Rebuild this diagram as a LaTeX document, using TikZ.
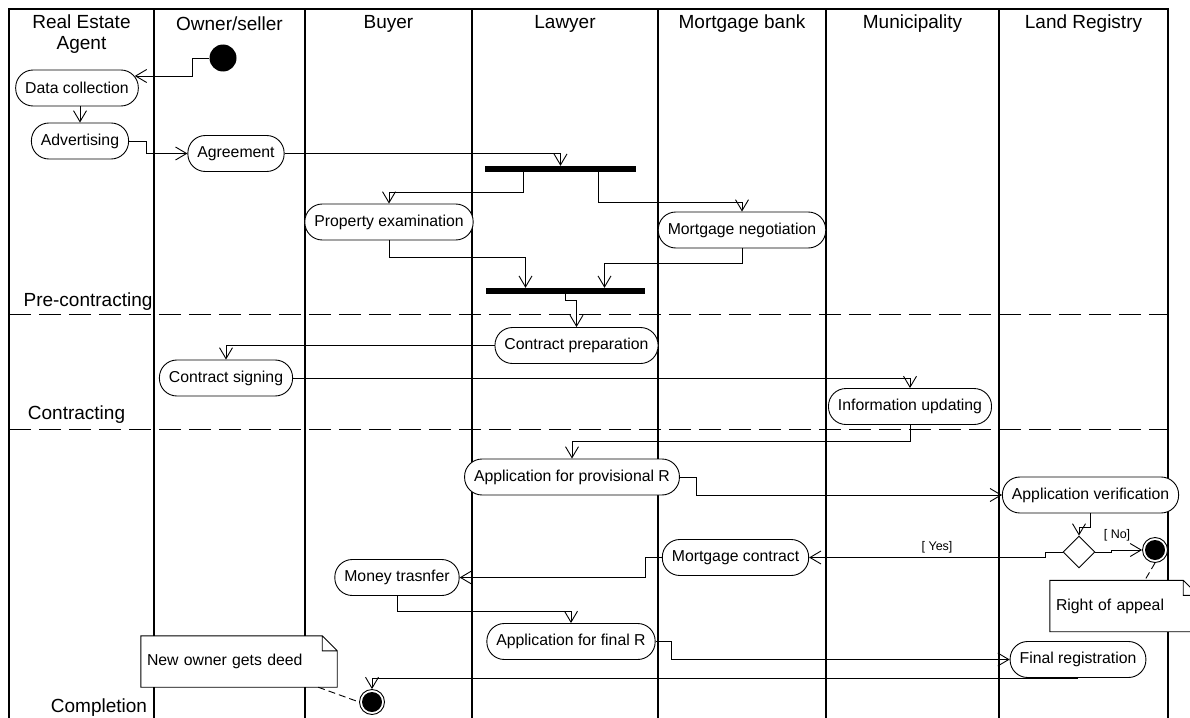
\documentclass[tikz,border=0pt]{standalone}
\usepackage{fontspec}
\setmainfont{Liberation Sans}
\usetikzlibrary{arrows.meta,shapes.geometric}

\begin{document}
\begin{tikzpicture}[x=1pt, y=-1pt, >={Straight Barb[length=11pt,width=13pt]},
	every node/.style={font=\fontsize{15.8}{18}\selectfont},
	act/.style={draw, fill=white, rounded corners=17.5pt, minimum height=36pt, inner xsep=9.5pt, line width=0.9pt},
	syncbar/.style={fill=black, inner sep=0pt, minimum height=6pt},
	startdot/.style={circle, fill=black, inner sep=0pt, minimum size=27pt},
	enddot/.style={circle, draw, line width=0.9pt, fill=white, inner sep=0pt, minimum size=25pt, path picture={\fill[black] (path picture bounding box.center) circle (10pt);}},
	choice/.style={diamond, draw, fill=white, inner sep=0pt, minimum width=32pt, minimum height=32pt, line width=0.9pt},
	flow/.style={->, line width=0.9pt},
	lane/.style={line width=1.5pt},
	phase/.style={dash pattern=on 22pt off 8pt, line width=1pt},
	anchorline/.style={dash pattern=on 7pt off 4pt, line width=0.9pt},
	lanehead/.style={font=\fontsize{19}{20.5}\selectfont, align=center},
	guard/.style={font=\fontsize{12.5}{14}\selectfont},
	memo/.style={fill=white, text width=#1, inner xsep=6pt, minimum height=51pt, align=left}]
	\clip (0,0) rectangle (1190,717);
	\fill[white] (0,0) rectangle (1190,717);
	% swimlanes and phases
	\draw[lane] (9,730) -- (9,9) -- (1168,9) -- (1168,730);
	\foreach \x in {154,305,472,658,826,999} {\draw[lane] (\x,9) -- (\x,730);}
	\draw[phase] (9,314) -- (1168,314);
	\draw[phase] (9,429) -- (1168,429);
	\node[lanehead] (hagent) at (81.5,34) {Real Estate\\Agent};
	\node[lanehead] (hseller) at (229.5,24) {Owner/seller};
	\node[lanehead] (hbuyer) at (388.5,24) {Buyer};
	\node[lanehead] (hlawyer) at (565,24) {Lawyer};
	\node[lanehead] (hbank) at (742,24) {Mortgage bank};
	\node[lanehead] (hmuni) at (912.5,24) {Municipality};
	\node[lanehead] (hland) at (1083.5,24) {Land Registry};
	\node[lanehead] (pre) at (88,302) {Pre-contracting};
	\node[lanehead] (contr) at (76.5,415) {Contracting};
	\node[lanehead] (compl) at (99,708) {Completion};
	% activities
	\node[startdot] (init) at (223,58) {};
	\node[act] (dcol) at (77,88) {Data collection};
	\node[act] (adv) at (80,141) {Advertising};
	\node[act] (agr) at (236,153.5) {Agreement};
	\node[syncbar, minimum width=151pt] (fork) at (560.5,169) {};
	\node[act] (pexam) at (389,222) {Property examination};
	\node[act] (mneg) at (742,230) {Mortgage negotiation};
	\node[syncbar, minimum width=159pt] (join) at (565.5,291) {};
	\node[act] (cprep) at (576.5,345.5) {Contract preparation};
	\node[act] (csign) at (226,378) {Contract signing};
	\node[act] (infup) at (910,406.5) {Information updating};
	\node[act] (aprov) at (572,477) {Application for provisional R};
	\node[act] (aver) at (1090.5,495) {Application verification};
	\node[choice] (dec) at (1079,552) {};
	\node[enddot] (fin1) at (1155,550) {};
	\node[act] (mcon) at (735.5,557.5) {Mortgage contract};
	\node[act] (mtra) at (397,577.5) {Money trasnfer};
	\node[act] (afin) at (571,641.5) {Application for final R};
	\node[act] (freg) at (1078,659.5) {Final registration};
	\node[enddot] (fin2) at (372,702) {};
	% flows
	\draw[flow] (init.west) -- ++(-17,0) |- ([xshift=-4pt,yshift=12pt]dcol.east);
	\draw[flow] (adv.north |- dcol.south) -- (adv.north);
	\draw[flow] (adv.east) -- ++(17,0) |- (agr.west);
	\draw[flow] (agr.east) -| (fork.north);
	\draw[flow] ([xshift=-37.5pt]fork.south) -- ++(0,20) -| (pexam.north);
	\draw[flow] ([xshift=37.5pt]fork.south) -- ++(0,30) -| (mneg.north);
	\draw[flow] (pexam.south) -- ++(0,17) -| ([xshift=-40pt]join.north);
	\draw[flow] (mneg.south) -- ++(0,15) -| ([xshift=39pt]join.north);
	\draw[flow] (join.south) -- ++(0,6) -| (cprep.north);
	\draw[flow] (cprep.west) -| (csign.north);
	\draw[flow] (csign.east) -| (infup.north);
	\draw[flow] (infup.south) -- ++(0,16) -| (aprov.north);
	\draw[flow] (aprov.east) -- ++(17,0) |- (aver.west);
	\draw[flow] (aver.south) -- ++(0,14) -| (dec.north);
	\draw[flow] (dec.east) -- ++(16,0) |- (fin1.west);
	\draw[flow] (dec.west) -- ++(-17,0) |- (mcon.east);
	\draw[flow] (mcon.west) -- ++(-16,0) |- (mtra.east);
	\draw[flow] (mtra.south) -- ++(0,15) -| (afin.north);
	\draw[flow] (afin.east) -- ++(16,0) |- (freg.west);
	\draw[flow] (freg.south) -| (fin2.north);
	\node[guard] (gno) at (1117,535) {[ No]};
	\node[guard] (gyes) at (937,547) {[ Yes]};
	% notes
	\node[memo=184pt] (deed) at (239,661.5) {New owner gets deed};
	\node[memo=136pt] (appeal) at (1124,606) {Right of appeal};
	\foreach \n in {deed,appeal} {
		\draw[line width=0.9pt] (\n.south west) -- (\n.north west) -- ([xshift=-15pt]\n.north east) -- ([yshift=-15pt]\n.north east) -- (\n.south east) -- cycle
			([xshift=-15pt]\n.north east) |- ([yshift=-15pt]\n.north east);
	}
	\draw[anchorline] ([xshift=-19pt]deed.south east) -- (fin2.west);
	\draw[anchorline] (fin1.south) -- ([xshift=95pt]appeal.north west);
\end{tikzpicture}
\end{document}
